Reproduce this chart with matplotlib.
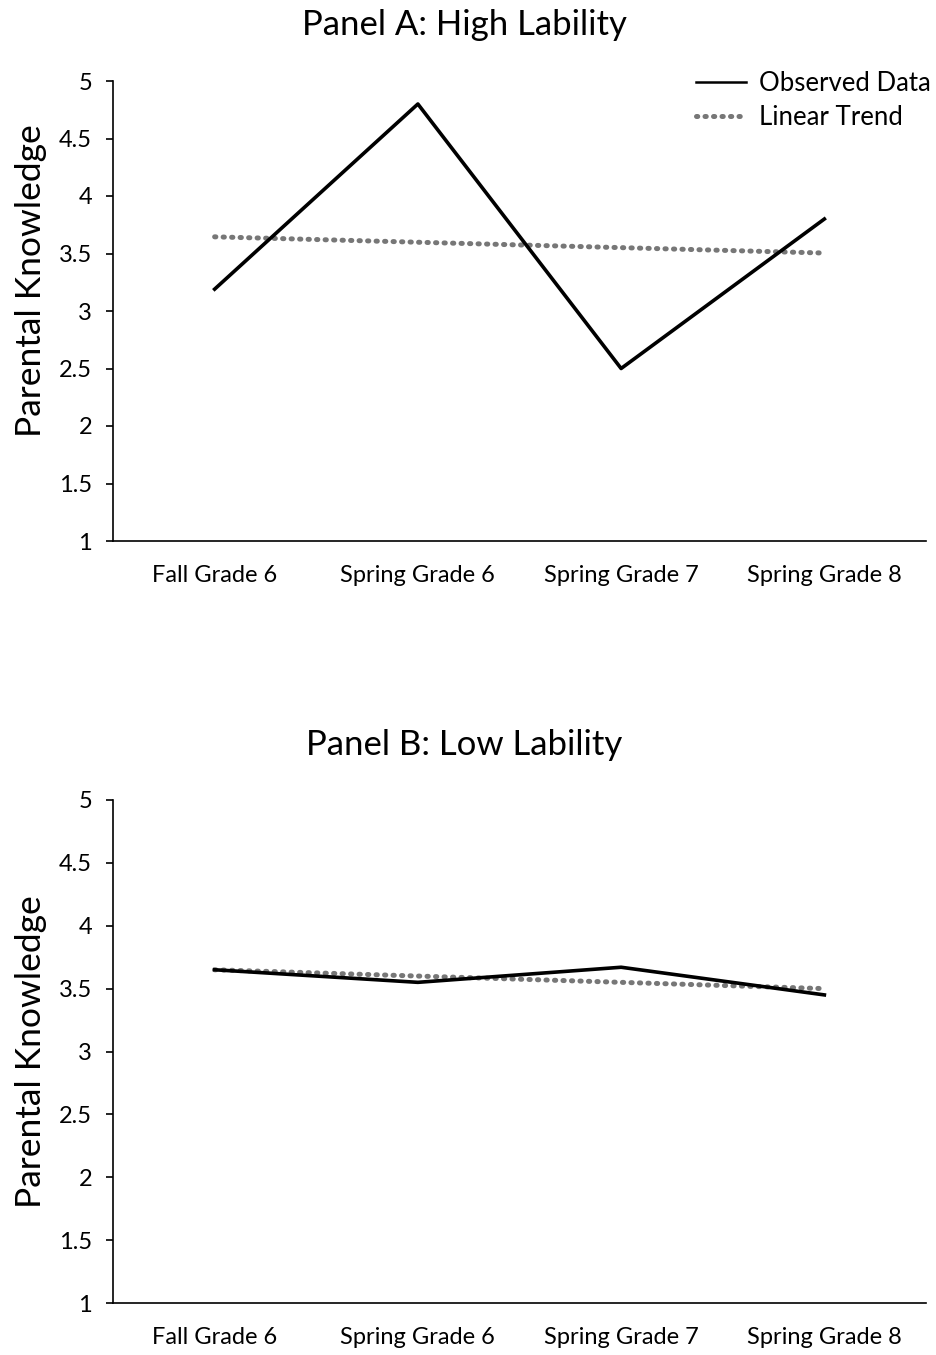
import matplotlib
matplotlib.use("Agg")
import matplotlib.pyplot as plt
from matplotlib.lines import Line2D

plt.rcParams['font.family'] = ['Lato', 'DejaVu Sans']

categories = ["Fall Grade 6", "Spring Grade 6", "Spring Grade 7", "Spring Grade 8"]
high_observed = [3.19, 4.80, 2.50, 3.80]
high_trend = [3.645, 3.598, 3.551, 3.504]
low_observed = [3.65, 3.55, 3.67, 3.45]
low_trend = [3.65, 3.60, 3.55, 3.50]
y_ticks = [1, 1.5, 2, 2.5, 3, 3.5, 4, 4.5, 5]
y_tick_labels = ["1", "1.5", "2", "2.5", "3", "3.5", "4", "4.5", "5"]

W, H = 936, 1355
fig = plt.figure(figsize=(W / 100, H / 100), dpi=100)

TREND_COLOR = "#777777"
TREND_STYLE = (0, (0.25, 1.45))

def px_axes(left, top, right, bottom):
    return fig.add_axes([left / W, (H - bottom) / H, (right - left) / W, (bottom - top) / H])

def style(ax, title, title_y, label_y):
    x = list(range(len(categories)))
    ax.set_xlim(-0.5, 3.5)
    ax.set_ylim(1, 5)
    ax.set_yticks(y_ticks)
    ax.set_yticklabels(y_tick_labels)
    ax.set_xticks(x)
    ax.set_xticklabels(categories)
    for s in ["top", "right"]:
        ax.spines[s].set_visible(False)
    for s in ["left", "bottom"]:
        ax.spines[s].set_linewidth(1.2)
        ax.spines[s].set_color("black")
    ax.tick_params(axis="y", length=5, width=1.2, pad=10, labelsize=17)
    ax.tick_params(axis="x", length=0, pad=17, labelsize=17)
    ax.set_ylabel("Parental Knowledge", fontsize=25.5)
    ax.yaxis.set_label_coords(-(113 - 47) / 813, label_y)
    fig.text(464 / W, 1 - title_y / H, title, ha="center", va="center", fontsize=25)

x = list(range(len(categories)))
axA = px_axes(113, 81, 926, 541)
axA.plot(x, high_trend, color=TREND_COLOR, lw=3.6, linestyle=TREND_STYLE, dash_capstyle="round")
axA.plot(x, high_observed, color="black", lw=2.6)
style(axA, "Panel A: High Lability", 25, 0.565)
handles = [Line2D([], [], color="black", lw=1.8),
           Line2D([], [], color=TREND_COLOR, lw=3.6, linestyle=TREND_STYLE, dash_capstyle="round")]
axA.legend(handles, ["Observed Data", "Linear Trend"], loc="upper right", bbox_to_anchor=(1.018, 1.045),
           frameon=False, fontsize=18.5, handlelength=1.95, handletextpad=0.5, labelspacing=0.35,
           borderaxespad=0)

axB = px_axes(113, 800, 926, 1303)
axB.plot(x, low_trend, color=TREND_COLOR, lw=3.6, linestyle=TREND_STYLE, dash_capstyle="round")
axB.plot(x, low_observed, color="black", lw=2.6)
style(axB, "Panel B: Low Lability", 745, 0.5)

fig.savefig("out.png", dpi=100)
